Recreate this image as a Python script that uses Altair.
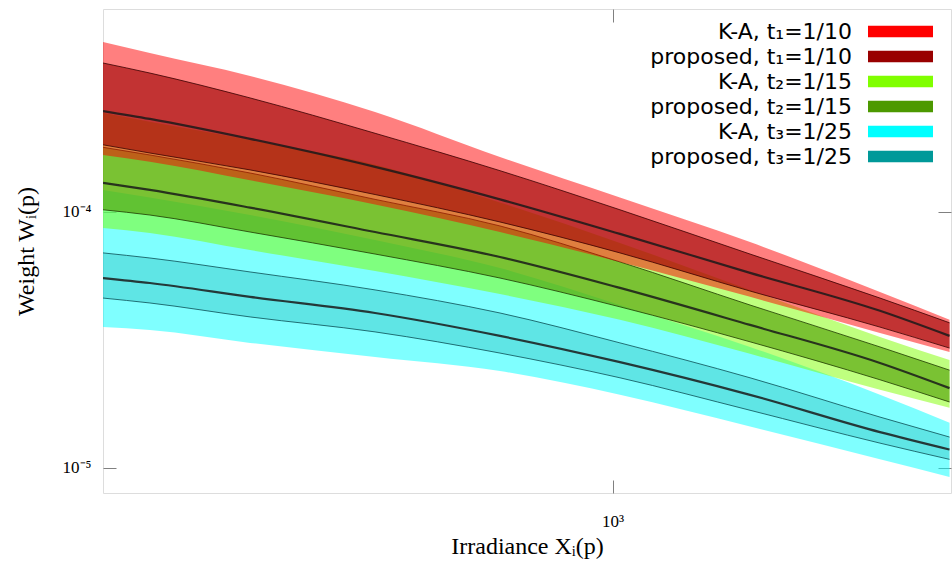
import altair as alt
import pandas as pd

# Irradiance sample points X_i(p)
irradiance = [250, 284, 373, 524, 736, 1020, 1453, 2069, 2500]

# t1 = 1/10
ka1_hi = [4.61e-4, 4.18e-4, 3.40e-4, 2.46e-4, 1.64e-4, 1.14e-4, 7.63e-5, 4.87e-5, 3.79e-5]
ka1_lo = [1.67e-4, 1.57e-4, 1.33e-4, 1.07e-4, 8.35e-5, 6.38e-5, 4.66e-5, 3.37e-5, 2.84e-5]
pr1_hi = [3.82e-4, 3.49e-4, 2.79e-4, 2.03e-4, 1.45e-4, 1.02e-4, 6.85e-5, 4.61e-5, 3.69e-5]
pr1_lo = [1.83e-4, 1.70e-4, 1.46e-4, 1.17e-4, 9.14e-5, 6.92e-5, 4.91e-5, 3.55e-5, 2.94e-5]
pr1_mid = [2.48e-4, 2.31e-4, 1.93e-4, 1.50e-4, 1.12e-4, 8.21e-5, 5.78e-5, 4.11e-5, 3.28e-5]

# t2 = 1/15
ka2_hi = [2.44e-4, 2.25e-4, 1.91e-4, 1.53e-4, 1.09e-4, 7.57e-5, 4.96e-5, 3.25e-5, 2.64e-5]
ka2_lo = [8.66e-5, 8.28e-5, 7.10e-5, 5.88e-5, 4.78e-5, 3.79e-5, 2.79e-5, 2.02e-5, 1.72e-5]
pr2_hi = [1.79e-4, 1.67e-4, 1.42e-4, 1.12e-4, 8.82e-5, 6.38e-5, 4.33e-5, 2.97e-5, 2.41e-5]
pr2_lo = [1.02e-4, 9.73e-5, 8.35e-5, 6.85e-5, 5.52e-5, 4.26e-5, 3.11e-5, 2.21e-5, 1.81e-5]
pr2_mid = [1.30e-4, 1.22e-4, 1.04e-4, 8.35e-5, 6.67e-5, 5.05e-5, 3.62e-5, 2.57e-5, 2.05e-5]

# t3 = 1/25
ka3_hi = [1.22e-4, 1.14e-4, 9.73e-5, 7.77e-5, 6.04e-5, 4.33e-5, 2.97e-5, 1.93e-5, 1.50e-5]
ka3_lo = [3.55e-5, 3.46e-5, 3.08e-5, 2.71e-5, 2.39e-5, 1.93e-5, 1.45e-5, 1.08e-5, 9.22e-6]
pr3_hi = [6.92e-5, 6.61e-5, 5.83e-5, 4.96e-5, 4.03e-5, 3.08e-5, 2.25e-5, 1.58e-5, 1.32e-5]
pr3_lo = [4.61e-5, 4.41e-5, 3.89e-5, 3.40e-5, 2.81e-5, 2.25e-5, 1.68e-5, 1.25e-5, 1.08e-5]
pr3_mid = [5.52e-5, 5.28e-5, 4.66e-5, 4.03e-5, 3.28e-5, 2.59e-5, 1.93e-5, 1.38e-5, 1.18e-5]

series_labels = [
    "K-A, t₁=1/10",
    "proposed, t₁=1/10",
    "K-A, t₂=1/15",
    "proposed, t₂=1/15",
    "K-A, t₃=1/25",
    "proposed, t₃=1/25",
]
series_colors = ["#ff0000", "#990000", "#80ff00", "#4c9900", "#00ffff", "#009999"]
series_opacity = [0.5, 0.6, 0.5, 0.6, 0.5, 0.25]
series_index = list(range(len(series_labels)))

SERIF = "Liberation Serif"
FRAME = "#808080"

x_scale = alt.Scale(type="log", domain=[250, 2510], nice=False)
y_scale = alt.Scale(type="log", domain=[7.98e-6, 6.21e-4], nice=False)

bottom_axis = alt.Axis(
    orient="bottom", values=[1000], labelExpr="'10³'",
    tickSize=13, offset=-13, domain=False, grid=False,
    tickColor=FRAME, tickWidth=1,
    labelFont=SERIF, labelFontSize=17, labelColor="black", labelPadding=20,
    title="Irradiance Xᵢ(p)", titleFont=SERIF, titleFontSize=24,
    titleFontWeight="normal", titleColor="black",
    titleX=424, titleY=73, titleBaseline="alphabetic", titleAlign="center",
)
left_axis = alt.Axis(
    orient="left", values=[1e-5, 1e-4],
    labelExpr="datum.value < 3e-5 ? '10⁻⁵' : '10⁻⁴'",
    tickSize=13, offset=-13, domain=False, grid=False,
    tickColor=FRAME, tickWidth=1,
    labelFont=SERIF, labelFontSize=17, labelColor="black", labelPadding=12,
    title="Weight Wᵢ(p)", titleFont=SERIF, titleFontSize=24,
    titleFontWeight="normal", titleColor="black",
    titleX=-83, titleY=242, titleAngle=270, titleBaseline="alphabetic",
    titleAlign="center",
)
top_axis = alt.Axis(
    orient="top", values=[1000], labels=False, title=None,
    tickSize=13, offset=-13, domain=False, grid=False,
    tickColor=FRAME, tickWidth=1,
)
right_axis = alt.Axis(
    orient="right", values=[1e-5, 1e-4], labels=False, title=None,
    tickSize=13, offset=-13, domain=False, grid=False,
    tickColor=FRAME, tickWidth=1,
)

# Legend swatches (colour, keyed by series index) and legend texts (opacity,
# keyed by series name) are two legends over the same series, so the texts
# can sit right-aligned to the left of the swatches.
swatch_legend = alt.Legend(
    orient="none", legendX=765, legendY=10, title=None,
    symbolType="M-1,-0.18H1V0.18H-1Z", symbolSize=4225,
    symbolStrokeWidth=0, symbolOpacity=1,
    labelExpr="''", labelOffset=0, clipHeight=25, rowPadding=0, padding=0,
)
text_legend = alt.Legend(
    orient="none", legendX=727, legendY=10, title=None,
    symbolSize=0, symbolStrokeWidth=0, symbolOpacity=0,
    labelFont="DejaVu Sans", labelFontSize=22, labelColor="black",
    labelAlign="right", labelOffset=0, clipHeight=25, rowPadding=0,
    padding=0, labelLimit=400,
)
color = alt.Color(
    "idx:N",
    scale=alt.Scale(domain=series_index, range=series_colors),
    legend=swatch_legend,
)
opacity = alt.Opacity(
    "label:N",
    scale=alt.Scale(type="ordinal", domain=series_labels, range=series_opacity),
    legend=text_legend,
)


def band(i, lo, hi):
    df = pd.DataFrame(
        {"x": irradiance, "lo": lo, "hi": hi, "idx": i, "label": series_labels[i]}
    )
    return alt.Chart(df).mark_area(interpolate="monotone", clip=True).encode(
        x=alt.X("x:Q", scale=x_scale, axis=bottom_axis),
        y=alt.Y("lo:Q", scale=y_scale, axis=left_axis),
        y2="hi:Q",
        color=color,
        opacity=opacity,
    )


def curve(values, stroke, width, alpha, xaxis=bottom_axis, yaxis=left_axis):
    df = pd.DataFrame({"x": irradiance, "w": values})
    return alt.Chart(df).mark_line(
        color=stroke, strokeWidth=width, opacity=alpha,
        interpolate="monotone", clip=True,
    ).encode(
        x=alt.X("x:Q", scale=x_scale, axis=xaxis),
        y=alt.Y("w:Q", scale=y_scale, axis=yaxis),
    )


groups = [
    # K-A band, proposed band, proposed centre, edge colour
    (4, 5, ka3_lo, ka3_hi, pr3_lo, pr3_hi, pr3_mid, "#0b4f55"),
    (2, 3, ka2_lo, ka2_hi, pr2_lo, pr2_hi, pr2_mid, "#1f3a00"),
    (0, 1, ka1_lo, ka1_hi, pr1_lo, pr1_hi, pr1_mid, "#3a0000"),
]

layers = []
for ka_i, pr_i, ka_lo, ka_hi, pr_lo, pr_hi, pr_mid, edge in groups:
    layers.append(band(ka_i, ka_lo, ka_hi))
    layers.append(band(pr_i, pr_lo, pr_hi))
    layers.append(curve(pr_lo, edge, 1, 0.8))
    layers.append(curve(pr_hi, edge, 1, 0.8))
    if pr_i != 1:
        layers.append(curve(pr_mid, "#1a1a1a", 2.2, 0.85))

# The last centre line carries the mirrored ticks on the top and right edges
mirror = curve(pr1_mid, "#1a1a1a", 2.2, 0.85, xaxis=top_axis, yaxis=right_axis)

chart = alt.layer(
    alt.layer(*layers), mirror
).resolve_axis(
    x="independent", y="independent"
).properties(
    width=848, height=484,
    autosize=alt.AutoSizeParams(type="none"),
    padding={"left": 103, "top": 9, "right": 1, "bottom": 81},
).configure_view(
    stroke=FRAME, strokeWidth=1.2
).configure(
    background="white"
)

chart.save("out.html", embed_options={"renderer": "svg", "actions": False})
